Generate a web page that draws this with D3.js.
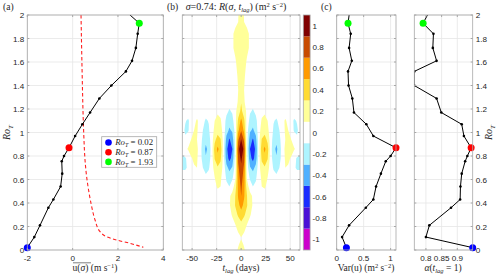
<!DOCTYPE html>
<html>
<head>
<meta charset="utf-8">
<script src="https://cdn.jsdelivr.net/npm/d3@7"></script>
<style>
  body { margin: 0; background: #fff; }
  svg { display: block; }
  text { font-family: "Liberation Sans", Arial, sans-serif; fill: #262626; }
  .tex { font-family: "Liberation Serif", "DejaVu Serif", serif; }
</style>
</head>
<body>
<svg id="chart" width="500" height="277"></svg>
<script>
// ---- profile data (one point per Ro_T level) ----
const roT   = [0.02, 0.11, 0.21, 0.36, 0.43, 0.54, 0.65, 0.755, 0.80, 0.87, 0.97, 1.07, 1.17, 1.29, 1.40, 1.52, 1.61, 1.72, 1.84, 1.93, 2.05];
const meanU = [-2.0, -1.69, -1.44, -1.07, -0.85, -0.53, -0.46, -0.48, -0.38, -0.16, 0.11, 0.43, 0.77, 1.18, 1.71, 2.35, 2.62, 2.79, 2.87, 2.94, 2.24];
const varU  = [0.18, 0.10, 0.23, 0.54, 0.68, 0.73, 0.82, 0.91, 1.00, 1.10, 0.68, 0.55, 0.32, 0.29, 0.22, 0.21, 0.28, 0.23, 0.26, 0.21, 0.245];
const alpha = [0.949, 0.800, 0.811, 0.880, 0.909, 0.910, 0.914, 0.925, 0.932, 0.944, 0.921, 0.914, 0.849, 0.834, 0.763, 0.763, 0.834, 0.822, 0.824, 0.791, 0.815];

// highlighted levels (index into roT)
const marks = [
  {i: 0, color: "#0000ff", label: "0.02"},
  {i: 9, color: "#ff0000", label: "0.87"},
  {i: 19, color: "#00ff00", label: "1.93"}
];

// red dashed reference curve in (a)
const refRo = [2.0, 1.5, 1.1, 0.94, 0.77, 0.62, 0.48, 0.37, 0.255, 0.156, 0.113, 0.085, 0.057, 0.023];
const refU  = [0.37, 0.42, 0.47, 0.50, 0.545, 0.62, 0.73, 0.84, 0.99, 1.21, 1.50, 1.94, 2.53, 3.12];

// ---- R(sigma, t_lag) field, t_lag >= 0 (symmetric in t_lag) ----
const tLag = [0, 3, 6, 9, 12, 15, 18, 21, 24, 27, 30, 33, 36, 39, 42, 45, 48, 51, 54, 57, 60];
const roGrid = [0.00, 0.05, 0.10, 0.16, 0.22, 0.30, 0.38, 0.46, 0.54, 0.62, 0.70, 0.78, 0.86, 0.94, 1.02, 1.10, 1.18, 1.26, 1.36, 1.48, 1.60, 1.72, 1.84, 1.94, 2.00];
const rField = [
  [0.20, 0.12, 0.04, 0.01, 0, 0, 0, 0, 0, 0, 0, 0, 0, 0, 0, 0, 0, 0, 0, 0, 0],
  [0.15, 0.08, 0.02, 0, 0, 0, 0, 0, 0, 0, 0, 0, 0, 0, 0, 0, 0, 0, 0, 0, 0],
  [0.09, 0.05, 0.02, 0, 0, 0, 0, 0, 0, 0, 0, 0, 0, 0, 0, 0, 0, 0, 0, 0, 0],
  [0.17, 0.11, 0.05, 0.01, 0, 0, 0, 0, 0, 0, 0, 0, 0, 0, 0, 0, 0, 0, 0, 0, 0],
  [0.25, 0.18, 0.10, 0.04, 0.01, 0, 0, 0, 0, 0, 0, 0, 0, 0, 0, 0, 0, 0, 0, 0, 0],
  [0.42, 0.33, 0.22, 0.12, 0.04, 0, 0, 0, 0, 0, 0, 0, 0, 0, 0, 0, 0, 0, 0, 0, 0],
  [0.57, 0.45, 0.31, 0.18, 0.08, 0.01, 0, 0, 0, 0, 0, 0, 0, 0, 0, 0, 0, 0, 0, 0, 0],
  [0.70, 0.52, 0.30, 0.17, 0.07, 0, 0, 0.02, 0.03, 0, 0, 0, 0, 0, 0, 0, 0, 0, 0, 0, 0],
  [0.74, 0.55, 0.20, 0.0, -0.10, -0.06, 0.03, 0.10, 0.12, 0.06, 0, 0, 0, 0, 0, 0, 0, 0, 0, 0, 0],
  [0.80, 0.60, 0.06, -0.14, -0.20, -0.13, 0.02, 0.13, 0.17, 0.10, 0.0, -0.04, -0.06, -0.03, 0.02, 0.06, 0.06, 0.02, -0.02, -0.04, -0.04],
  [0.86, 0.66, 0.0, -0.28, -0.36, -0.24, 0.02, 0.22, 0.28, 0.19, 0.0, -0.12, -0.18, -0.10, 0.02, 0.10, 0.08, 0.0, -0.08, -0.12, -0.12],
  [0.95, 0.74, -0.02, -0.44, -0.56, -0.40, 0.0, 0.34, 0.44, 0.31, 0.0, -0.20, -0.28, -0.18, 0.0, 0.12, 0.14, 0.08, -0.05, -0.12, -0.14],
  [1.10, 0.82, -0.05, -0.50, -0.62, -0.45, 0.0, 0.42, 0.54, 0.38, 0.0, -0.24, -0.34, -0.20, 0.0, 0.14, 0.20, 0.18, 0.12, 0.05, -0.02],
  [0.91, 0.66, -0.04, -0.40, -0.52, -0.36, 0.02, 0.31, 0.38, 0.25, 0.0, -0.18, -0.25, -0.15, 0.0, 0.10, 0.14, 0.10, 0.0, -0.08, -0.10],
  [0.68, 0.45, -0.02, -0.27, -0.33, -0.22, 0.02, 0.18, 0.22, 0.15, 0.0, -0.12, -0.16, -0.10, 0.02, 0.12, 0.10, 0.0, -0.12, -0.12, -0.05],
  [0.55, 0.34, 0.02, -0.16, -0.22, -0.15, 0.0, 0.12, 0.16, 0.10, 0.0, -0.09, -0.12, -0.06, 0.05, 0.12, 0.06, -0.04, -0.12, -0.09, -0.02],
  [0.35, 0.20, 0.05, -0.08, -0.12, -0.06, 0.0, 0.05, 0.07, 0.04, 0.0, -0.03, -0.04, 0, 0, 0.02, 0, 0, -0.02, 0, 0],
  [0.29, 0.12, 0.02, -0.03, -0.05, -0.02, 0, 0, 0.02, 0, 0, 0, 0, 0, 0, 0, 0, 0, 0, 0, 0],
  [0.24, 0.10, 0.04, 0.01, 0, 0, 0, 0, 0, 0, 0, 0, 0, 0, 0, 0, 0, 0, 0, 0, 0],
  [0.21, 0.12, 0.05, 0.02, 0, 0, 0, 0, 0, 0, 0, 0, 0, 0, 0, 0, 0, 0, 0, 0, 0],
  [0.27, 0.18, 0.07, 0.03, 0, 0, 0, 0, 0, 0, 0, 0, 0, 0, 0, 0, 0, 0, 0, 0, 0],
  [0.24, 0.20, 0.15, 0.07, 0.02, 0, 0, 0, 0, 0, 0, 0, 0, 0, 0, 0, 0, 0, 0, 0, 0],
  [0.26, 0.21, 0.15, 0.07, 0.02, 0, 0, 0, 0, 0, 0, 0, 0, 0, 0, 0, 0, 0, 0, 0, 0],
  [0.22, 0.10, 0.05, 0.02, 0, 0, 0, 0, 0, 0, 0, 0, 0, 0, 0, 0, 0, 0, 0, 0, 0],
  [0.23, 0.09, 0.05, 0.03, 0.02, 0, 0, 0, 0, 0, 0, 0, 0, 0, 0, 0, 0, 0, 0, 0, 0]
];

// colour levels
const levels   = [-1.1, -0.9, -0.7, -0.5, -0.3, -0.1, 0.1, 0.3, 0.5, 0.7, 0.9, 1.1];
const levelCol = ["#cc00cc", "#4a0fd6", "#1a2cff", "#4fb0ff", "#aef4ff", "#ffffff",
                  "#ffff99", "#ffdb33", "#ff9a00", "#c84a00", "#800000"];
const cbTicks  = [-1, -0.8, -0.6, -0.4, -0.2, 0, 0.2, 0.4, 0.6, 0.8, 1];

const roTicks = [0, 0.2, 0.4, 0.6, 0.8, 1, 1.2, 1.4, 1.6, 1.8, 2];

const svg = d3.select("#chart");
svg.append("rect").attr("width", 500).attr("height", 277).attr("fill", "#fff");

const yTop = 15, yBot = 250;
const y = d3.scaleLinear([0, 2], [yBot, yTop]);

const xA = d3.scaleLinear([-2, 4], [27.3, 163.3]);
const xB = d3.scaleLinear([-60, 60], [182.3, 300]);
const xC = d3.scaleLinear([0, 1.1], [336.7, 396]);
const xD = d3.scaleLinear([0.763, 0.949], [414.3, 472.7]);

const gridCol = "#e6e6e6", boxCol = "#a8a8a8";
const fs = 8.1, tickBase = 260.5, labBase = 271;

function frame(x, xt) {
  const g = svg.append("g");
  const [x0, x1] = x.range();
  g.selectAll(".gx").data(xt).join("line")
    .attr("x1", d => x(d)).attr("x2", d => x(d))
    .attr("y1", yTop).attr("y2", yBot)
    .attr("stroke", gridCol).attr("stroke-width", 0.8);
  g.selectAll(".gy").data(roTicks).join("line")
    .attr("x1", x0).attr("x2", x1)
    .attr("y1", d => y(d)).attr("y2", d => y(d))
    .attr("stroke", gridCol).attr("stroke-width", 0.8);
  return g;
}

function box(x, xt, opts) {
  const g = svg.append("g");
  const [x0, x1] = x.range();
  g.append("rect").attr("x", x0).attr("y", yTop).attr("width", x1 - x0).attr("height", yBot - yTop)
    .attr("fill", "none").attr("stroke", boxCol).attr("stroke-width", 0.8);
  g.selectAll(".tx").data(xt).join("line")
    .attr("x1", d => x(d)).attr("x2", d => x(d))
    .attr("y1", yBot).attr("y2", yBot - 2).attr("stroke", boxCol);
  g.selectAll(".tx2").data(xt).join("line")
    .attr("x1", d => x(d)).attr("x2", d => x(d))
    .attr("y1", yTop).attr("y2", yTop + 2).attr("stroke", boxCol);
  g.selectAll(".ty").data(roTicks).join("line")
    .attr("x1", x0).attr("x2", x0 + 2)
    .attr("y1", d => y(d)).attr("y2", d => y(d)).attr("stroke", boxCol);
  g.selectAll(".ty2").data(roTicks).join("line")
    .attr("x1", x1).attr("x2", x1 - 2)
    .attr("y1", d => y(d)).attr("y2", d => y(d)).attr("stroke", boxCol);
  g.selectAll(".lx").data(xt).join("text")
    .attr("x", d => x(d)).attr("y", tickBase)
    .attr("text-anchor", "middle").attr("font-size", fs)
    .text(d => d);
  if (opts.yLeft) {
    g.selectAll(".ly").data(roTicks).join("text")
      .attr("x", x0 - 3).attr("y", d => y(d) + 3)
      .attr("text-anchor", "end").attr("font-size", fs).text(d => d);
  }
  if (opts.yRight) {
    g.selectAll(".ly").data(roTicks).join("text")
      .attr("x", x1 + 3).attr("y", d => y(d) + 3)
      .attr("text-anchor", "start").attr("font-size", fs).text(d => d);
  }
  return g;
}

function roLabel(xp) {
  const t = svg.append("text").attr("class", "tex")
    .attr("transform", `translate(${xp},${(yTop + yBot) / 2}) rotate(-90)`)
    .attr("text-anchor", "middle").attr("font-size", 10).attr("font-style", "italic");
  t.append("tspan").text("Ro");
  t.append("tspan").attr("font-size", 7).attr("dy", 2.5).text("T");
}

function profile(x, vals) {
  const g = svg.append("g");
  const pts = roT.map((r, i) => [x(vals[i]), y(r)]);
  const cid = "clip" + Math.round(x.range()[0]);
  svg.append("clipPath").attr("id", cid).append("rect")
    .attr("x", x.range()[0]).attr("y", yTop).attr("width", x.range()[1] - x.range()[0]).attr("height", yBot - yTop);
  const gg = g.append("g").attr("clip-path", `url(#${cid})`);
  gg.append("path").attr("d", d3.line()(pts)).attr("fill", "none").attr("stroke", "#000").attr("stroke-width", 1);
  gg.selectAll("circle").data(pts.slice(0, -1)).join("circle")
    .attr("cx", d => d[0]).attr("cy", d => d[1]).attr("r", 1.3).attr("fill", "#000");
  g.selectAll(".m").data(marks).join("circle")
    .attr("cx", d => x(vals[d.i])).attr("cy", d => y(roT[d.i])).attr("r", 3.5)
    .attr("fill", d => d.color);
}

// ---------------- panel (a) ----------------
const xtA = [-2, 0, 2, 4];
frame(xA, xtA);
svg.append("clipPath").attr("id", "clipRef").append("rect")
  .attr("x", 27.3).attr("y", yTop).attr("width", 136).attr("height", yBot - yTop);
svg.append("path")
  .attr("clip-path", "url(#clipRef)")
  .attr("d", d3.line().curve(d3.curveMonotoneY)(refRo.map((r, i) => [xA(refU[i]), y(r)])))
  .attr("fill", "none").attr("stroke", "#ff2020").attr("stroke-width", 1.1).attr("stroke-dasharray", "3.5,2.5");
profile(xA, meanU);
box(xA, xtA, {yLeft: true});
roLabel(10);

// legend
const lg = svg.append("g").attr("transform", "translate(101.7,136.7)");
lg.append("rect").attr("width", 55).attr("height", 30.6).attr("fill", "#fff").attr("stroke", "#a8a8a8").attr("stroke-width", 0.8);
marks.forEach((m, k) => {
  const yy = 5.8 + k * 9.7;
  lg.append("circle").attr("cx", 6.8).attr("cy", yy).attr("r", 3.3).attr("fill", m.color);
  const t = lg.append("text").attr("class", "tex").attr("x", 13.5).attr("y", yy + 3).attr("font-size", 8.8);
  t.append("tspan").attr("font-style", "italic").text("Ro");
  t.append("tspan").attr("font-style", "italic").attr("font-size", 6).attr("dy", 2).text("T");
  t.append("tspan").attr("dy", -2).text(" = " + m.label);
});

// x label (a)
const la = svg.append("text").attr("class", "tex").attr("x", 95).attr("y", labBase).attr("text-anchor", "middle").attr("font-size", 9.5);
la.append("tspan").text("u(");
la.append("tspan").attr("font-style", "italic").text("σ");
la.append("tspan").text(")");
la.append("tspan").text("  (m s");
la.append("tspan").attr("font-size", 6.5).attr("dy", -3.5).text("−1");
la.append("tspan").attr("dy", 3.5).text(")");
svg.append("line").attr("x1", 73).attr("x2", 91).attr("y1", 262.8).attr("y2", 262.8).attr("stroke", "#262626").attr("stroke-width", 0.6);
svg.append("text").attr("class", "tex").attr("x", 3).attr("y", 10).attr("font-size", 9.5).text("(a)");

// ---------------- panel (b) ----------------
const xtB = [-50, -25, 0, 25, 50];
frame(xB, xtB);

const nx = tLag.length * 2 - 1, ny = roGrid.length;
const full = rField.map(row => row.slice(1).reverse().concat(row));
const vals = full.flat();
const tAt  = d3.scaleLinear([0, nx - 1], [-60, 60]);
const roAt = d3.scaleLinear(d3.range(ny), roGrid);
const proj = d3.geoTransform({
  point(px, py) { this.stream.point(xB(tAt(px - 0.5)), y(roAt(py - 0.5))); }
});
const path = d3.geoPath(proj);
svg.append("clipPath").attr("id", "clipB").append("rect")
  .attr("x", 182.3).attr("y", yTop).attr("width", 300 - 182.3).attr("height", yBot - yTop);
const gB = svg.append("g").attr("clip-path", "url(#clipB)");
const posThr = [0.1, 0.3, 0.5, 0.7, 0.9];
const contours = d3.contours().size([nx, ny]).thresholds(posThr);
gB.selectAll(".pos").data(contours(vals)).join("path")
  .attr("d", path).attr("fill", (d, i) => levelCol[6 + i]).attr("stroke", "none");
gB.selectAll(".neg").data(contours(vals.map(v => -v))).join("path")
  .attr("d", path).attr("fill", (d, i) => levelCol[4 - i]).attr("stroke", "none");
box(xB, xtB, {});

// title (b)
const tb = svg.append("text").attr("class", "tex").attr("x", 236).attr("y", 10).attr("text-anchor", "middle").attr("font-size", 10);
tb.append("tspan").attr("font-style", "italic").text("σ");
tb.append("tspan").text("=0.74:  ");
tb.append("tspan").attr("font-style", "italic").text("R");
tb.append("tspan").text("(");
tb.append("tspan").attr("font-style", "italic").text("σ");
tb.append("tspan").text(", ");
tb.append("tspan").attr("font-style", "italic").text("t");
tb.append("tspan").attr("font-style", "italic").attr("font-size", 6.5).attr("dy", 2).text("lag");
tb.append("tspan").attr("dy", -2).text(")  (m");
tb.append("tspan").attr("font-size", 6.5).attr("dy", -3.5).text("2");
tb.append("tspan").attr("dy", 3.5).text(" s");
tb.append("tspan").attr("font-size", 6.5).attr("dy", -3.5).text("−2");
tb.append("tspan").attr("dy", 3.5).text(")");
svg.append("text").attr("class", "tex").attr("x", 167).attr("y", 10).attr("font-size", 9.5).text("(b)");

const lb = svg.append("text").attr("class", "tex").attr("x", 241).attr("y", labBase).attr("text-anchor", "middle").attr("font-size", 9.5);
lb.append("tspan").attr("font-style", "italic").text("t");
lb.append("tspan").attr("font-style", "italic").attr("font-size", 6.5).attr("dy", 2).text("lag");
lb.append("tspan").attr("dy", -2).text(" (days)");

// colorbar
const yCb = d3.scaleLinear([-1.1, 1.1], [yBot, yTop]);
const cb = svg.append("g");
cb.selectAll("rect").data(levelCol).join("rect")
  .attr("x", 303.3).attr("width", 6.8)
  .attr("y", (d, i) => yCb(levels[i + 1])).attr("height", (d, i) => yCb(levels[i]) - yCb(levels[i + 1]))
  .attr("fill", d => d);
cb.append("rect").attr("x", 303.3).attr("width", 6.8).attr("y", yTop).attr("height", yBot - yTop)
  .attr("fill", "none").attr("stroke", boxCol).attr("stroke-width", 0.8);
cb.selectAll("text").data(cbTicks).join("text")
  .attr("x", 312.5).attr("y", d => yCb(d) + 3).attr("font-size", fs).text(d => d);

// ---------------- panel (c) ----------------
const xtC = [0, 0.5, 1];
frame(xC, xtC);
profile(xC, varU);
box(xC, xtC, {});
svg.append("text").attr("class", "tex").attr("x", 321).attr("y", 10).attr("font-size", 9.5).text("(c)");
const lc = svg.append("text").attr("class", "tex").attr("x", 366).attr("y", labBase).attr("text-anchor", "middle").attr("font-size", 9.5);
lc.append("tspan").text("Var(u)  (m");
lc.append("tspan").attr("font-size", 6.5).attr("dy", -3.5).text("2");
lc.append("tspan").attr("dy", 3.5).text(" s");
lc.append("tspan").attr("font-size", 6.5).attr("dy", -3.5).text("−2");
lc.append("tspan").attr("dy", 3.5).text(")");

const xtD = [0.8, 0.85, 0.9];
frame(xD, xtD);
profile(xD, alpha);
box(xD, xtD, {yRight: true});
roLabel(492);
const ld = svg.append("text").attr("class", "tex").attr("x", 443).attr("y", labBase).attr("text-anchor", "middle").attr("font-size", 9.5);
ld.append("tspan").attr("font-style", "italic").text("α");
ld.append("tspan").text("(");
ld.append("tspan").attr("font-style", "italic").text("t");
ld.append("tspan").attr("font-style", "italic").attr("font-size", 6.5).attr("dy", 2).text("lag");
ld.append("tspan").attr("dy", -2).text(" = 1)");
</script>
</body>
</html>
